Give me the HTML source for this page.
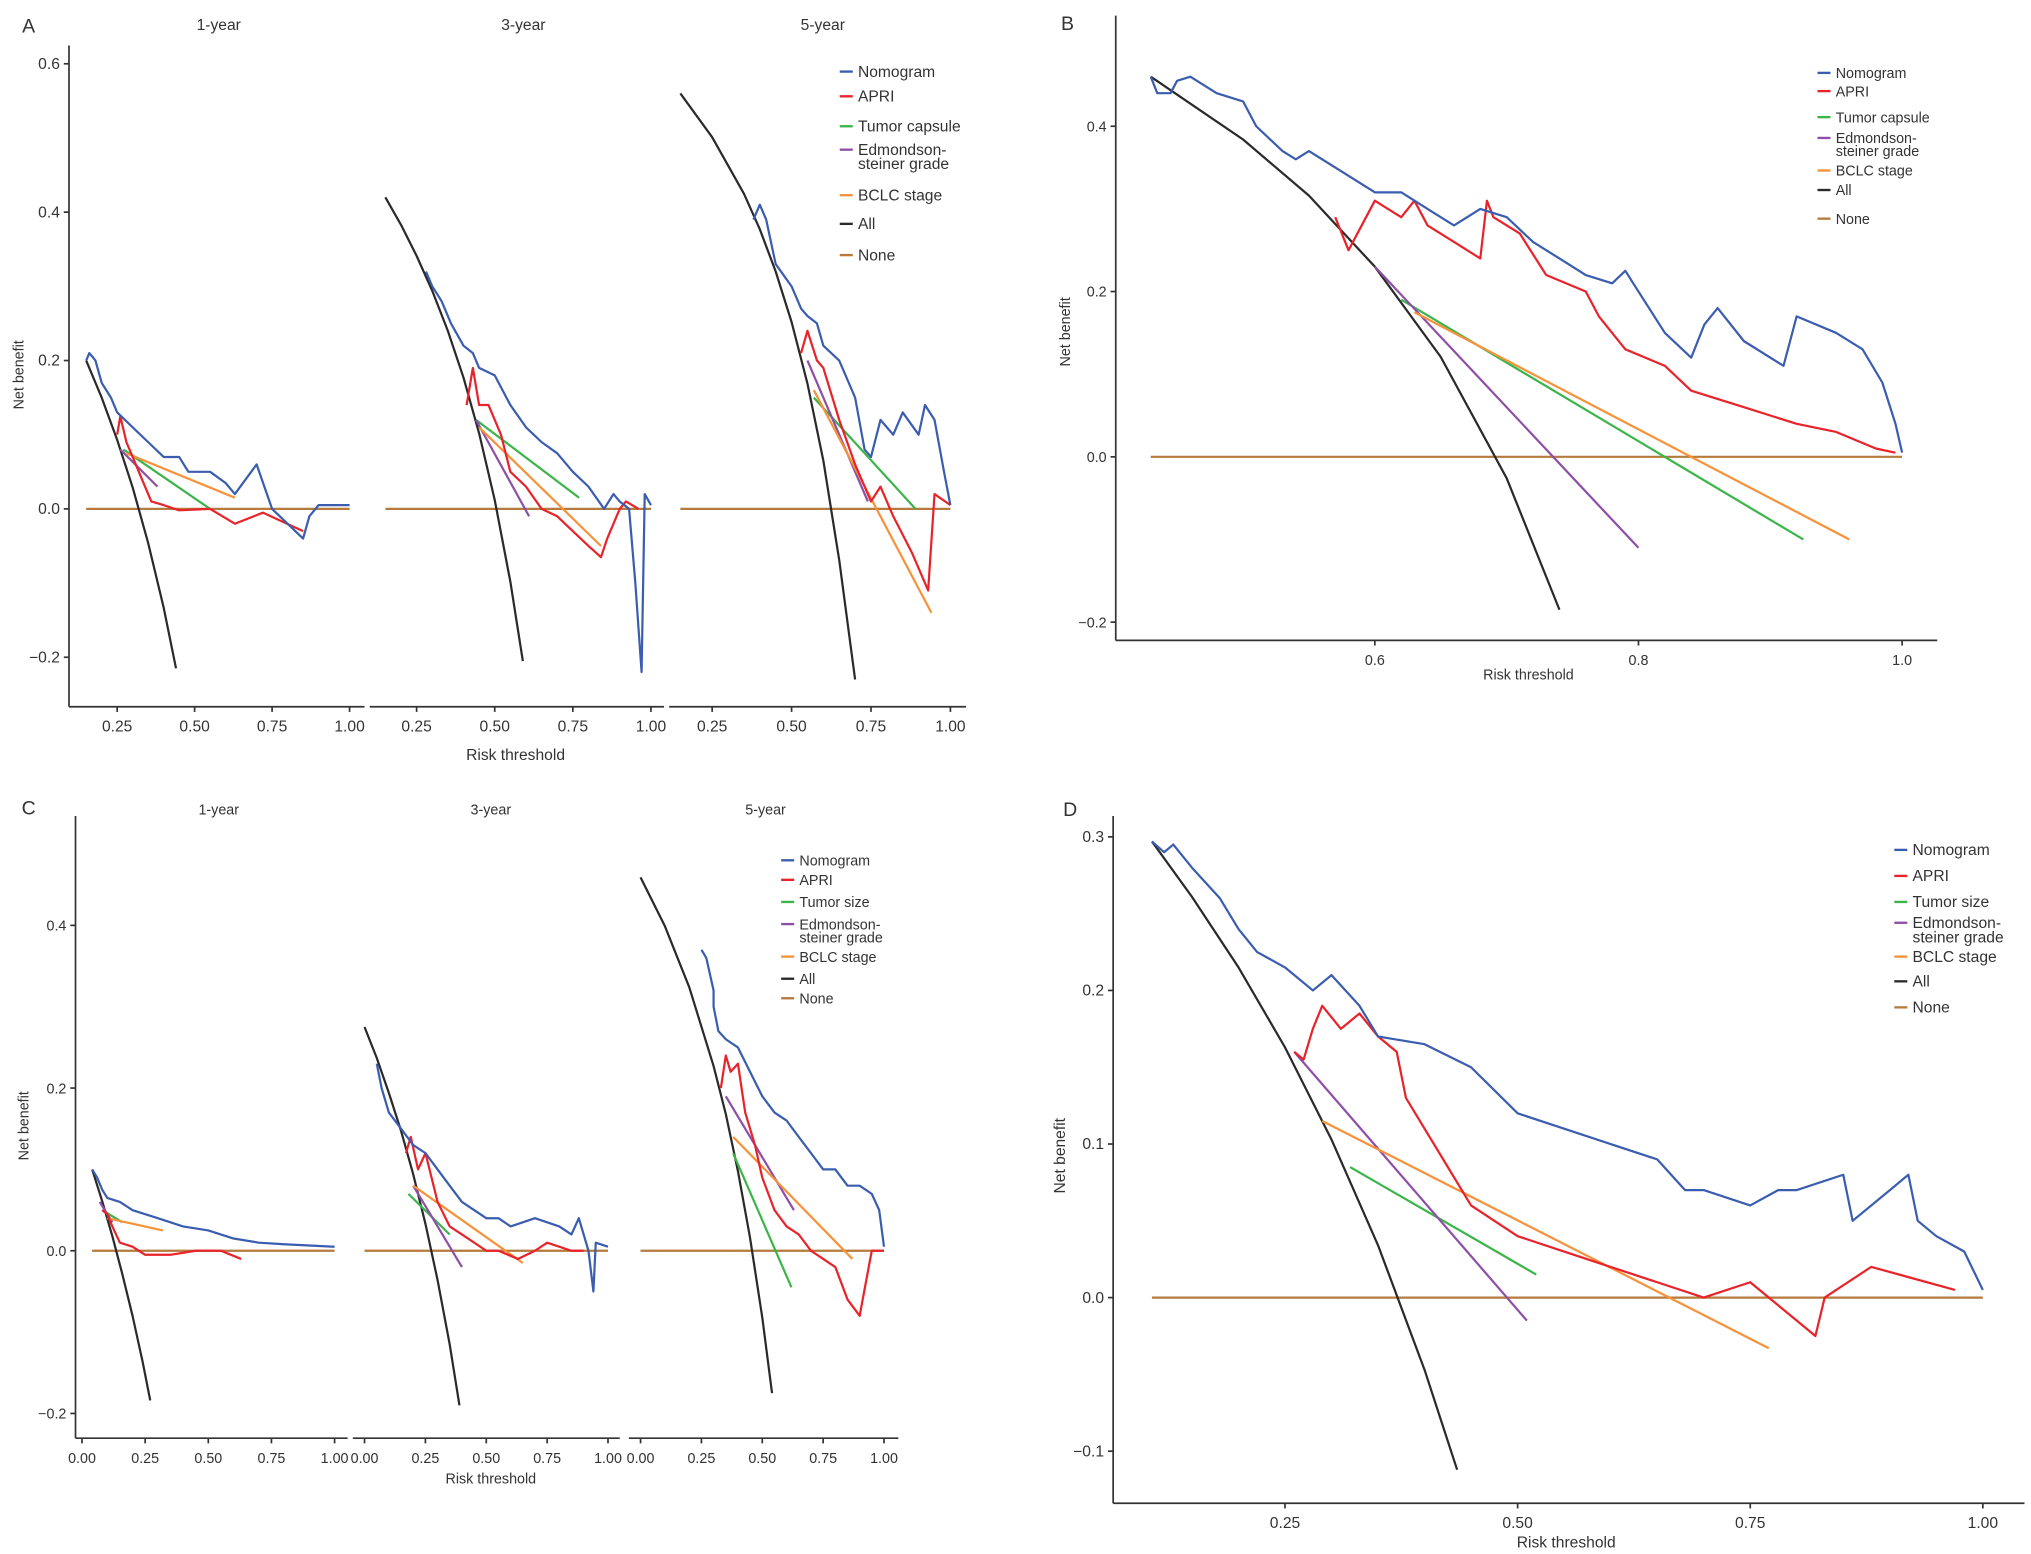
<!DOCTYPE html>
<html><head><meta charset="utf-8"><style>
html,body{margin:0;padding:0;background:#fff;}
svg{display:block;}
text{font-family:"Liberation Sans",sans-serif;fill:#333;}
</style></head><body>
<svg id="fig" width="2031" height="1554" viewBox="0 0 1560 1194" preserveAspectRatio="none" xmlns="http://www.w3.org/2000/svg"></svg>
<script>
// ===== DATA (x = risk threshold, y = net benefit) =====
// Panel A 1-year
const a1AllX=[0.15,0.2,0.25,0.3,0.35,0.4,0.44];
const a1AllY=[0.2,0.15,0.093,0.029,-0.046,-0.133,-0.215];
const a1NomX=[0.15,0.16,0.17,0.18,0.2,0.23,0.25,0.3,0.35,0.4,0.45,0.48,0.55,0.6,0.63,0.7,0.75,0.85,0.87,0.9,1.0];
const a1NomY=[0.2,0.21,0.205,0.2,0.17,0.15,0.13,0.11,0.09,0.07,0.07,0.05,0.05,0.035,0.02,0.06,0.0,-0.04,-0.01,0.005,0.005];
const a1ApriX=[0.25,0.26,0.28,0.3,0.33,0.36,0.4,0.45,0.55,0.63,0.72,0.85];
const a1ApriY=[0.1,0.125,0.09,0.07,0.04,0.01,0.005,-0.002,0.0,-0.02,-0.005,-0.03];
const a1GreenX=[0.27,0.55], a1GreenY=[0.08,0.0];
const a1PurpX=[0.26,0.38], a1PurpY=[0.08,0.03];
const a1OrX=[0.28,0.63], a1OrY=[0.075,0.015];
const a1NoneX=[0.15,1.0], a1NoneY=[0,0];
// Panel A 3-year
const a3AllX=[0.15,0.2,0.25,0.3,0.35,0.4,0.45,0.5,0.55,0.59];
const a3AllY=[0.42,0.383,0.341,0.294,0.24,0.177,0.102,0.012,-0.098,-0.205];
const a3NomX=[0.28,0.3,0.33,0.36,0.4,0.43,0.45,0.5,0.55,0.6,0.65,0.7,0.75,0.8,0.85,0.88,0.9,0.93,0.95,0.97,0.98,1.0];
const a3NomY=[0.32,0.3,0.28,0.25,0.22,0.21,0.19,0.18,0.14,0.11,0.09,0.075,0.05,0.03,0.0,0.02,0.01,0.0,-0.1,-0.22,0.02,0.005];
const a3ApriX=[0.41,0.43,0.45,0.48,0.52,0.55,0.6,0.65,0.7,0.75,0.8,0.84,0.86,0.9,0.92,0.96];
const a3ApriY=[0.14,0.19,0.14,0.14,0.1,0.05,0.03,0.0,-0.01,-0.03,-0.05,-0.065,-0.04,0.0,0.01,0.0];
const a3GreenX=[0.44,0.77], a3GreenY=[0.12,0.015];
const a3PurpX=[0.44,0.61], a3PurpY=[0.12,-0.01];
const a3OrX=[0.45,0.84], a3OrY=[0.11,-0.05];
const a3NoneX=[0.15,1.0], a3NoneY=[0,0];
// Panel A 5-year
const a5AllX=[0.15,0.25,0.35,0.4,0.45,0.5,0.55,0.6,0.65,0.7];
const a5AllY=[0.56,0.501,0.425,0.377,0.32,0.252,0.169,0.065,-0.069,-0.23];
const a5NomX=[0.38,0.4,0.42,0.45,0.5,0.53,0.55,0.58,0.6,0.65,0.7,0.73,0.75,0.78,0.82,0.85,0.9,0.92,0.95,0.98,1.0];
const a5NomY=[0.39,0.41,0.39,0.33,0.3,0.27,0.26,0.25,0.22,0.2,0.15,0.08,0.07,0.12,0.1,0.13,0.1,0.14,0.12,0.05,0.005];
const a5ApriX=[0.53,0.55,0.58,0.6,0.65,0.7,0.75,0.78,0.82,0.88,0.93,0.95,1.0];
const a5ApriY=[0.21,0.24,0.2,0.19,0.12,0.06,0.01,0.03,-0.01,-0.06,-0.11,0.02,0.005];
const a5GreenX=[0.57,0.89], a5GreenY=[0.15,0.0];
const a5PurpX=[0.55,0.74], a5PurpY=[0.2,0.01];
const a5OrX=[0.57,0.94], a5OrY=[0.16,-0.14];
const a5NoneX=[0.15,1.0], a5NoneY=[0,0];
// Panel B
const bAllX=[0.43,0.5,0.55,0.6,0.65,0.7,0.74];
const bAllY=[0.46,0.384,0.316,0.23,0.121,-0.026,-0.185];
const bNomX=[0.43,0.435,0.445,0.45,0.46,0.48,0.5,0.51,0.53,0.54,0.55,0.58,0.6,0.62,0.64,0.66,0.68,0.7,0.72,0.74,0.76,0.78,0.79,0.8,0.82,0.84,0.85,0.86,0.88,0.91,0.92,0.95,0.97,0.985,0.995,1.0];
const bNomY=[0.46,0.44,0.44,0.455,0.46,0.44,0.43,0.4,0.37,0.36,0.37,0.34,0.32,0.32,0.3,0.28,0.3,0.29,0.26,0.24,0.22,0.21,0.225,0.2,0.15,0.12,0.16,0.18,0.14,0.11,0.17,0.15,0.13,0.09,0.04,0.005];
const bApriX=[0.57,0.58,0.59,0.6,0.61,0.62,0.63,0.64,0.66,0.68,0.685,0.69,0.71,0.73,0.76,0.77,0.79,0.82,0.84,0.88,0.92,0.95,0.98,0.995];
const bApriY=[0.29,0.25,0.28,0.31,0.3,0.29,0.31,0.28,0.26,0.24,0.31,0.29,0.27,0.22,0.2,0.17,0.13,0.11,0.08,0.06,0.04,0.03,0.01,0.005];
const bGreenX=[0.62,0.925], bGreenY=[0.19,-0.1];
const bPurpX=[0.6,0.8], bPurpY=[0.23,-0.11];
const bOrX=[0.63,0.96], bOrY=[0.175,-0.1];
const bNoneX=[0.43,1.0], bNoneY=[0,0];
// Panel C 1-year
const c1AllX=[0.04,0.08,0.12,0.16,0.2,0.24,0.27];
const c1AllY=[0.1,0.061,0.018,-0.029,-0.08,-0.137,-0.184];
const c1NomX=[0.04,0.06,0.08,0.1,0.15,0.2,0.3,0.4,0.5,0.6,0.7,0.8,1.0];
const c1NomY=[0.1,0.09,0.075,0.065,0.06,0.05,0.04,0.03,0.025,0.015,0.01,0.008,0.005];
const c1ApriX=[0.08,0.1,0.12,0.15,0.2,0.25,0.35,0.45,0.55,0.63];
const c1ApriY=[0.05,0.045,0.03,0.01,0.005,-0.005,-0.005,0.0,0.0,-0.01];
const c1GreenX=[0.08,0.16], c1GreenY=[0.05,0.035];
const c1PurpX=[0.07,0.12], c1PurpY=[0.06,0.035];
const c1OrX=[0.1,0.32], c1OrY=[0.04,0.025];
const c1NoneX=[0.04,1.0], c1NoneY=[0,0];
// Panel C 3-year
const c3AllX=[0,0.05,0.1,0.15,0.2,0.25,0.3,0.35,0.39];
const c3AllY=[0.275,0.237,0.194,0.147,0.094,0.033,-0.036,-0.115,-0.19];
const c3NomX=[0.05,0.07,0.1,0.15,0.2,0.25,0.3,0.35,0.4,0.5,0.55,0.6,0.7,0.8,0.85,0.88,0.92,0.94,0.95,1.0];
const c3NomY=[0.23,0.2,0.17,0.15,0.13,0.12,0.1,0.08,0.06,0.04,0.04,0.03,0.04,0.03,0.02,0.04,0.0,-0.05,0.01,0.005];
const c3ApriX=[0.17,0.19,0.22,0.25,0.3,0.35,0.4,0.5,0.55,0.63,0.7,0.75,0.85,0.9];
const c3ApriY=[0.12,0.14,0.1,0.12,0.06,0.03,0.02,0.0,0.0,-0.01,0.0,0.01,0.0,0.0];
const c3GreenX=[0.18,0.35], c3GreenY=[0.07,0.02];
const c3PurpX=[0.2,0.4], c3PurpY=[0.08,-0.02];
const c3OrX=[0.2,0.65], c3OrY=[0.08,-0.015];
const c3NoneX=[0,1.0], c3NoneY=[0,0];
// Panel C 5-year
const c5AllX=[0,0.1,0.2,0.3,0.35,0.4,0.45,0.5,0.54];
const c5AllY=[0.459,0.399,0.324,0.227,0.168,0.098,0.016,-0.082,-0.175];
const c5NomX=[0.25,0.27,0.3,0.3,0.32,0.35,0.4,0.45,0.5,0.55,0.6,0.65,0.7,0.75,0.8,0.85,0.9,0.95,0.98,1.0];
const c5NomY=[0.37,0.36,0.32,0.3,0.27,0.26,0.25,0.22,0.19,0.17,0.16,0.14,0.12,0.1,0.1,0.08,0.08,0.07,0.05,0.005];
const c5ApriX=[0.33,0.35,0.37,0.4,0.43,0.47,0.5,0.55,0.6,0.65,0.7,0.75,0.8,0.85,0.9,0.95,1.0];
const c5ApriY=[0.2,0.24,0.22,0.23,0.17,0.13,0.09,0.05,0.03,0.02,0.0,-0.01,-0.02,-0.06,-0.08,0.0,0.0];
const c5GreenX=[0.38,0.62], c5GreenY=[0.12,-0.045];
const c5PurpX=[0.35,0.63], c5PurpY=[0.19,0.05];
const c5OrX=[0.38,0.87], c5OrY=[0.14,-0.01];
const c5NoneX=[0,1.0], c5NoneY=[0,0];
// Panel D
const dAllX=[0.107,0.15,0.2,0.25,0.3,0.35,0.4,0.435];
const dAllY=[0.297,0.261,0.215,0.163,0.103,0.034,-0.047,-0.112];
const dNomX=[0.107,0.12,0.13,0.15,0.18,0.2,0.22,0.25,0.28,0.3,0.33,0.35,0.4,0.45,0.5,0.55,0.6,0.65,0.68,0.7,0.75,0.78,0.8,0.85,0.86,0.9,0.92,0.93,0.95,0.98,1.0];
const dNomY=[0.297,0.29,0.295,0.28,0.26,0.24,0.225,0.215,0.2,0.21,0.19,0.17,0.165,0.15,0.12,0.11,0.1,0.09,0.07,0.07,0.06,0.07,0.07,0.08,0.05,0.07,0.08,0.05,0.04,0.03,0.005];
const dApriX=[0.26,0.27,0.28,0.29,0.31,0.33,0.35,0.37,0.38,0.4,0.42,0.45,0.5,0.55,0.6,0.65,0.7,0.75,0.8,0.82,0.83,0.88,0.97];
const dApriY=[0.16,0.155,0.175,0.19,0.175,0.185,0.17,0.16,0.13,0.11,0.09,0.06,0.04,0.03,0.02,0.01,0.0,0.01,-0.015,-0.025,0.0,0.02,0.005];
const dGreenX=[0.32,0.52], dGreenY=[0.085,0.015];
const dPurpX=[0.26,0.51], dPurpY=[0.16,-0.015];
const dOrX=[0.29,0.77], dOrY=[0.115,-0.033];
const dNoneX=[0.107,1.0], dNoneY=[0,0];
// tick labels
const aYTicks=[0.6,0.4,0.2,0.0,-0.2];
const aXTicks=[0.25,0.5,0.75,1.0];
const bYTicks=[0.4,0.2,0.0,-0.2];
const bXTicks=[0.6,0.8,1.0];
const cYTicks=[0.4,0.2,0.0,-0.2];
const cXTicks=[0.0,0.25,0.5,0.75,1.0];
const dYTicks=[0.3,0.2,0.1,0.0,-0.1];
const dXTicks=[0.25,0.5,0.75,1.0];

// ===== DRAWING =====
const NS="http://www.w3.org/2000/svg";
const svg=document.getElementById('fig');
const COL={nom:'#3b5db0',apri:'#e8232a',green:'#3bb54a',purp:'#8e4fa6',or:'#f6923a',all:'#2a2a2a',none:'#b57a3c'};
function mk(tag,at){const e=document.createElementNS(NS,tag);for(const k in at)e.setAttribute(k,at[k]);svg.appendChild(e);return e;}
function line(x1,y1,x2,y2,name){const e=mk('line',{x1,y1,x2,y2,stroke:'#333','stroke-width':1.3});

return e;}
function txt(x,y,s,size,anchor,name,rot){const e=mk('text',{x,y,'font-size':size,'text-anchor':anchor||'middle'});e.textContent=s;
if(rot)e.setAttribute('transform','rotate(-90 '+x+' '+y+')');

return e;}
function series(xs,ys,sx,sy,col,name){let d='';for(let i=0;i<xs.length;i++)d+=(i?'L':'M')+sx(xs[i]).toFixed(1)+','+sy(ys[i]).toFixed(1);
const e=mk('path',{d,fill:'none',stroke:col,'stroke-width':1.7,'stroke-linejoin':'round'});

}
function fmt(v,d){return (v<0?'\u2212':'')+Math.abs(v).toFixed(d);}
function drawSet(p,sx,sy,pre){
 series(p.none[0],p.none[1],sx,sy,COL.none,pre+'none-line');
 series(p.all[0],p.all[1],sx,sy,COL.all,pre+'all-line');
 series(p.green[0],p.green[1],sx,sy,COL.green,pre+'green-line');
 series(p.purp[0],p.purp[1],sx,sy,COL.purp,pre+'edmondson-line');
 series(p.or[0],p.or[1],sx,sy,COL.or,pre+'bclc-line');
 series(p.apri[0],p.apri[1],sx,sy,COL.apri,pre+'apri-line');
 series(p.nom[0],p.nom[1],sx,sy,COL.nom,pre+'nomogram-line');
}
function yAxis(x,y0,y1,ticks,sy,dec,fs,pre){line(x,y0,x,y1,pre+'y-axis');
 ticks.forEach(t=>{const y=sy(t);line(x-4,y,x,y,pre+'y-tick');txt(x-7,y+4,fmt(t,dec),fs,'end',pre+'y-tick-label');});}
function xAxis(y,x0,x1,ticks,sx,dec,fs,pre){line(x0,y,x1,y,pre+'x-axis');
 ticks.forEach(t=>{const x=sx(t);line(x,y,x,y+4,pre+'x-tick');txt(x,y+19,t.toFixed(dec),fs,'middle',pre+'x-tick-label');});}
function legend(x,items,fs,pre){items.forEach(it=>{it.ys.forEach((yy,i)=>{if(i===0){const l=mk('line',{x1:x,y1:yy-4,x2:x+10,y2:yy-4,stroke:it.c,'stroke-width':1.8});

}
txt(x+14,yy,it.t[i],fs,'start',pre+'legend-entry');});});}

// Panel A
const aY=v=>391-v*570;
const aSx=[x=>90+(x-0.25)*238, x=>320+(x-0.25)*240, x=>547+(x-0.25)*244];
const aSets=[
 {all:[a1AllX,a1AllY],nom:[a1NomX,a1NomY],apri:[a1ApriX,a1ApriY],green:[a1GreenX,a1GreenY],purp:[a1PurpX,a1PurpY],or:[a1OrX,a1OrY],none:[a1NoneX,a1NoneY]},
 {all:[a3AllX,a3AllY],nom:[a3NomX,a3NomY],apri:[a3ApriX,a3ApriY],green:[a3GreenX,a3GreenY],purp:[a3PurpX,a3PurpY],or:[a3OrX,a3OrY],none:[a3NoneX,a3NoneY]},
 {all:[a5AllX,a5AllY],nom:[a5NomX,a5NomY],apri:[a5ApriX,a5ApriY],green:[a5GreenX,a5GreenY],purp:[a5PurpX,a5PurpY],or:[a5OrX,a5OrY],none:[a5NoneX,a5NoneY]}];
const aSeg=[[53,280],[284,510],[514,742]];
const aTitles=['1-year','3-year','5-year'], aTx=[168,402,632];
aSets.forEach((s,i)=>{drawSet(s,aSx[i],aY,'a'+i+'-');xAxis(543,aSeg[i][0],aSeg[i][1],aXTicks,aSx[i],2,12,'a'+i+'-');txt(aTx[i],23,aTitles[i],12,'middle','a-facet-title');});
yAxis(53,35,543,aYTicks,aY,1,12,'a-');
txt(22,25,'A',15,'middle','panel-a-label');
txt(18,288,'Net benefit',11,'middle','a-y-axis-title',true);
txt(396,584,'Risk threshold',12,'middle','a-x-axis-title');
legend(645,[{c:COL.nom,ys:[59],t:['Nomogram']},{c:COL.apri,ys:[78],t:['APRI']},{c:COL.green,ys:[101],t:['Tumor capsule']},{c:COL.purp,ys:[119,130],t:['Edmondson-','steiner grade']},{c:COL.or,ys:[154],t:['BCLC stage']},{c:COL.all,ys:[176],t:['All']},{c:COL.none,ys:[200],t:['None']}],12,'a-');

// Panel B
const bX=x=>1056+(x-0.6)*1012.5, bY=v=>351-v*635;
drawSet({all:[bAllX,bAllY],nom:[bNomX,bNomY],apri:[bApriX,bApriY],green:[bGreenX,bGreenY],purp:[bPurpX,bPurpY],or:[bOrX,bOrY],none:[bNoneX,bNoneY]},bX,bY,'b-');
yAxis(857,12,492,bYTicks,bY,1,11,'b-');
xAxis(492,857,1488,bXTicks,bX,1,11,'b-');
txt(820,23,'B',15,'middle','panel-b-label');
txt(822,255,'Net benefit',11,'middle','b-y-axis-title',true);
txt(1174,522,'Risk threshold',11,'middle','b-x-axis-title');
legend(1396,[{c:COL.nom,ys:[60],t:['Nomogram']},{c:COL.apri,ys:[74],t:['APRI']},{c:COL.green,ys:[94],t:['Tumor capsule']},{c:COL.purp,ys:[110,120],t:['Edmondson-','steiner grade']},{c:COL.or,ys:[135],t:['BCLC stage']},{c:COL.all,ys:[150],t:['All']},{c:COL.none,ys:[172],t:['None']}],11,'b-');

// Panel C
const cY=v=>961-v*625;
const cSx=[x=>63+x*194, x=>280+x*187, x=>492+x*187];
const cSets=[
 {all:[c1AllX,c1AllY],nom:[c1NomX,c1NomY],apri:[c1ApriX,c1ApriY],green:[c1GreenX,c1GreenY],purp:[c1PurpX,c1PurpY],or:[c1OrX,c1OrY],none:[c1NoneX,c1NoneY]},
 {all:[c3AllX,c3AllY],nom:[c3NomX,c3NomY],apri:[c3ApriX,c3ApriY],green:[c3GreenX,c3GreenY],purp:[c3PurpX,c3PurpY],or:[c3OrX,c3OrY],none:[c3NoneX,c3NoneY]},
 {all:[c5AllX,c5AllY],nom:[c5NomX,c5NomY],apri:[c5ApriX,c5ApriY],green:[c5GreenX,c5GreenY],purp:[c5PurpX,c5PurpY],or:[c5OrX,c5OrY],none:[c5NoneX,c5NoneY]}];
const cSeg=[[58,267],[271,476],[483,690]];
const cTx=[168,377,588];
cSets.forEach((s,i)=>{drawSet(s,cSx[i],cY,'c'+i+'-');xAxis(1105,cSeg[i][0],cSeg[i][1],cXTicks,cSx[i],2,11,'c'+i+'-');txt(cTx[i],626,aTitles[i],11,'middle','c-facet-title');});
yAxis(58,627,1105,cYTicks,cY,1,11,'c-');
txt(22,626,'C',15,'middle','panel-c-label');
txt(22,865,'Net benefit',11,'middle','c-y-axis-title',true);
txt(377,1140,'Risk threshold',11,'middle','c-x-axis-title');
legend(600,[{c:COL.nom,ys:[665],t:['Nomogram']},{c:COL.apri,ys:[680],t:['APRI']},{c:COL.green,ys:[697],t:['Tumor size']},{c:COL.purp,ys:[714,724],t:['Edmondson-','steiner grade']},{c:COL.or,ys:[739],t:['BCLC stage']},{c:COL.all,ys:[756],t:['All']},{c:COL.none,ys:[771],t:['None']}],11,'c-');

// Panel D
const dX=x=>987+(x-0.25)*714.7, dY=v=>997-v*1180;
drawSet({all:[dAllX,dAllY],nom:[dNomX,dNomY],apri:[dApriX,dApriY],green:[dGreenX,dGreenY],purp:[dPurpX,dPurpY],or:[dOrX,dOrY],none:[dNoneX,dNoneY]},dX,dY,'d-');
yAxis(855,627,1155,dYTicks,dY,1,12,'d-');
xAxis(1155,855,1555,dXTicks,dX,2,12,'d-');
txt(822,627,'D',15,'middle','panel-d-label');
txt(818,888,'Net benefit',12,'middle','d-y-axis-title',true);
txt(1203,1189,'Risk threshold',12,'middle','d-x-axis-title');
legend(1455,[{c:COL.nom,ys:[657],t:['Nomogram']},{c:COL.apri,ys:[677],t:['APRI']},{c:COL.green,ys:[697],t:['Tumor size']},{c:COL.purp,ys:[713,724],t:['Edmondson-','steiner grade']},{c:COL.or,ys:[739],t:['BCLC stage']},{c:COL.all,ys:[758],t:['All']},{c:COL.none,ys:[778],t:['None']}],12,'d-');
</script>
</body></html>
